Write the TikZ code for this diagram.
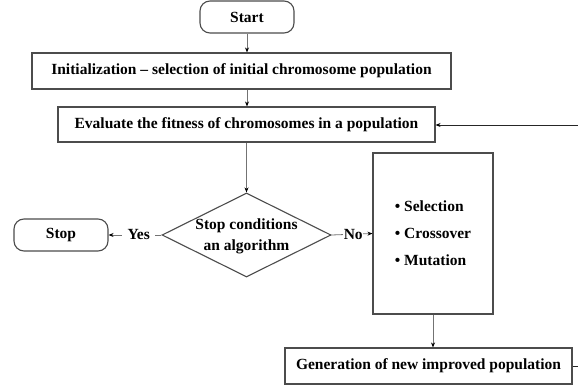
\documentclass[tikz,border=0pt]{standalone}
\usepackage{fontspec}
\setmainfont{Liberation Serif}
\usetikzlibrary{shapes.geometric,arrows.meta}
\begin{document}
\begin{tikzpicture}[x=1pt,y=-1pt,
  base/.style={font=\fontsize{15.5}{20}\selectfont\bfseries, text=black},
  proc/.style={base, draw=black!70, line width=1.1pt, fill=white, inner sep=0pt},
  term/.style={proc, rounded corners=10pt, minimum width=94pt, minimum height=32pt},
  dia/.style={draw=black!70, line width=1.1pt, shape=diamond, inner sep=0pt},
  lbl/.style={base, inner sep=0pt},
  conn/.style={draw=black!55, line width=0.8pt, -{Stealth[length=5pt,width=4pt,color=black]}},
  fbline/.style={draw=black!85, line width=0.8pt, -{Stealth[length=5pt,width=4pt,color=black]}}
]
\useasboundingbox (0,0) rectangle (578,387);
\fill[white] (0,0) rectangle (578,387);

\node[term] (start) at (247,17) {Start};
\node[proc, minimum width=419pt, minimum height=36pt] (init) at (241.5,71)
  {Initialization -- selection of initial chromosome population};
\node[proc, minimum width=377pt, minimum height=35pt] (eval) at (246.5,124.5)
  {Evaluate the fitness of chromosomes in a population};
\node[dia, minimum width=169pt, minimum height=84pt] (cond) at (246.5,235) {};
\node[lbl, align=center, font=\fontsize{15.5}{21}\selectfont\bfseries] (condtxt) at (246.5,236.5)
  {Stop conditions\\an algorithm};
\node[term] (stop) at (61,235) {Stop};
\node[proc, minimum width=120pt, minimum height=161pt, align=left,
  font=\fontsize{15.5}{27}\selectfont\bfseries] (ops) at (433,233.5)
  {\textbullet\ Selection\\\textbullet\ Crossover\\\textbullet\ Mutation};
\node[proc, minimum width=287pt, minimum height=36pt] (gen) at (428.5,366)
  {Generation of new improved population};

\coordinate (fb) at (600,125);

\draw[conn] (start.south) -- (start.south |- init.north);
\draw[conn] (init.south -| start.south) -- (start.south |- eval.north);
\draw[conn] (eval.south) -- (cond.north);
\draw[conn] (cond.west) -- node[lbl, pos=0.43, fill=white, inner xsep=5.5pt, inner ysep=3pt] (yes) {Yes} (stop.east);
\draw[conn] (cond.east) -- node[lbl, pos=0.53, fill=white, inner xsep=0.5pt, inner ysep=3pt] (no) {No\hspace{6pt}} (ops.west);
\draw[conn] (ops.south) -- (ops.south |- gen.north);
\draw[fbline] (gen.east) -- (gen.east -| fb) -- (fb) -- (eval.east |- fb);
\end{tikzpicture}
\end{document}
